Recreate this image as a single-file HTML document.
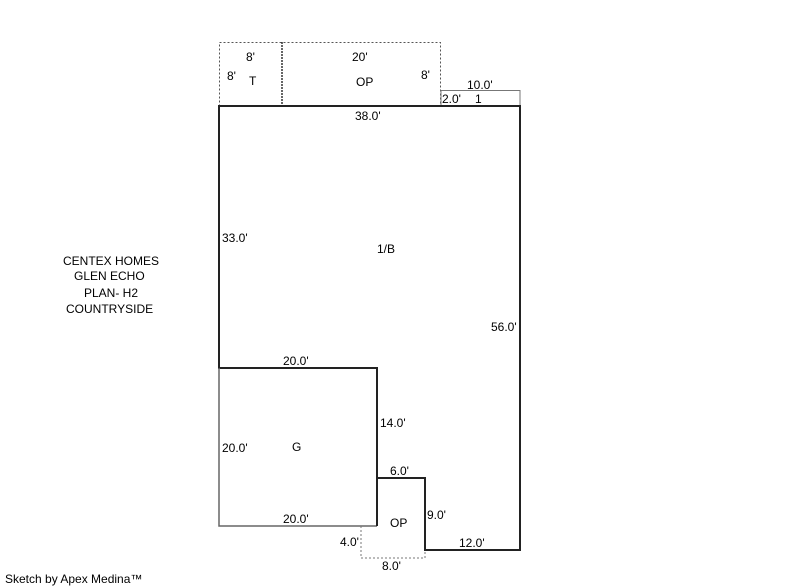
<!DOCTYPE html>
<html><head><style>body{margin:0;background:#fff}svg{display:block}text{font-family:"Liberation Sans",sans-serif;font-size:12px;fill:#000}</style></head><body>
<svg width="800" height="587" viewBox="0 0 800 587">
<g fill="none">
<rect x="219.5" y="42.5" width="221" height="63" stroke="#555" stroke-dasharray="2,2"/>
<line x1="282" y1="42" x2="282" y2="106" stroke="#333" stroke-dasharray="2,1" stroke-width="1.5"/>
<rect x="441" y="90.5" width="79" height="15.5" stroke="#777"/>
<path d="M219 106H520V550H425V478H377V368H219Z" stroke="#222" stroke-width="2"/>
<path d="M219 368V526H377" stroke="#666" stroke-width="1.5"/>
<path d="M361 526V558H425V550" stroke="#777" stroke-dasharray="2,2"/>
<line x1="377" y1="478" x2="377" y2="526" stroke="#222" stroke-width="2"/>
</g>
<text x="246" y="61">8'</text><text x="227" y="80">8'</text><text x="249" y="85" font-size="11">T</text>
<text x="352" y="61">20'</text><text x="356" y="86" font-size="10">OP</text><text x="421" y="79">8'</text>
<text x="467" y="89">10.0'</text><text x="442" y="103">2.0'</text><text x="475" y="103">1</text>
<text x="355" y="120">38.0'</text><text x="222" y="242">33.0'</text><text x="377" y="253">1/B</text>
<text x="491" y="331">56.0'</text><text x="283" y="365">20.0'</text><text x="380" y="427">14.0'</text>
<text x="222" y="452">20.0'</text><text x="292" y="451">G</text>
<text x="390" y="475">6.0'</text><text x="427" y="519">9.0'</text><text x="283" y="523">20.0'</text>
<text x="390" y="527" font-size="13">OP</text><text x="340" y="546">4.0'</text><text x="459" y="547">12.0'</text>
<text x="382" y="570">8.0'</text>
<text x="63" y="265">CENTEX HOMES</text><text x="74" y="280">GLEN ECHO</text><text x="84" y="297">PLAN- H2</text><text x="66" y="313">COUNTRYSIDE</text>
<text x="5" y="583" font-size="8">Sketch by Apex Medina™</text>
</svg></body></html>
